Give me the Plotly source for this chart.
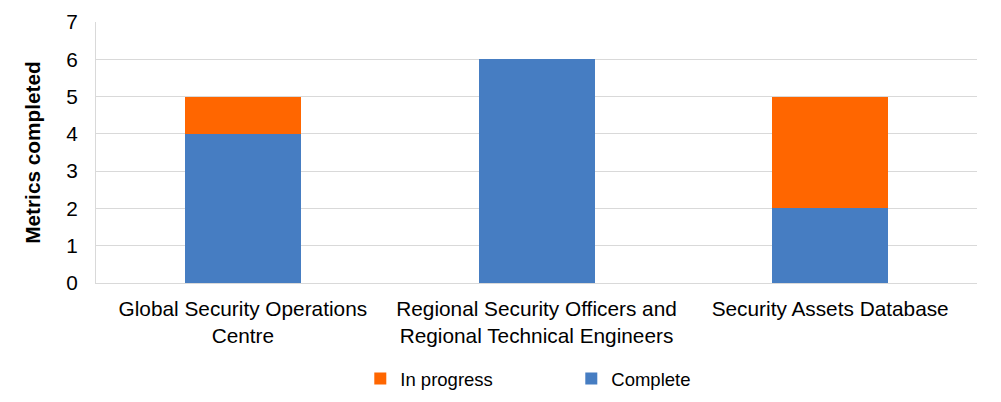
import plotly.graph_objects as go

categories = ["Global Security Operations<br>Centre",
              "Regional Security Officers and<br>Regional Technical Engineers",
              "Security Assets Database"]
complete = [4, 6, 2]
in_progress = [1, 0, 3]

fig = go.Figure()
fig.add_trace(go.Bar(x=categories, y=complete, name="Complete", marker=dict(color="#467DC2", line=dict(width=0))))
fig.add_trace(go.Bar(x=categories, y=in_progress, name="In progress", marker=dict(color="#FF6600", line=dict(width=0))))

fig.update_layout(
    barmode="stack",
    bargap=0.605,
    width=1001, height=402,
    margin=dict(l=96, r=24, t=22, b=119, autoexpand=False),
    plot_bgcolor="white", paper_bgcolor="white",
    font=dict(family="Liberation Sans, Arial, sans-serif", size=20.8, color="black"),
    showlegend=True,
    legend=dict(orientation="h", x=0.300, xanchor="left", y=-0.368, yanchor="middle",
                traceorder="reversed", entrywidth=166, font=dict(size=18.5)),
    yaxis=dict(range=[0, 7], dtick=1, showgrid=True, gridcolor="#D9D9D9", gridwidth=1,
               showline=True, linecolor="#D9D9D9", zeroline=False, ticks="",
               automargin=False, ticklabelstandoff=13,
               title=dict(text="<b>Metrics completed</b>", font=dict(size=20.8), standoff=19)),
    xaxis=dict(showline=True, linecolor="#D9D9D9", ticks="", showgrid=False,
               automargin=False, ticklabelstandoff=7),
)
fig.write_html("out.html")
